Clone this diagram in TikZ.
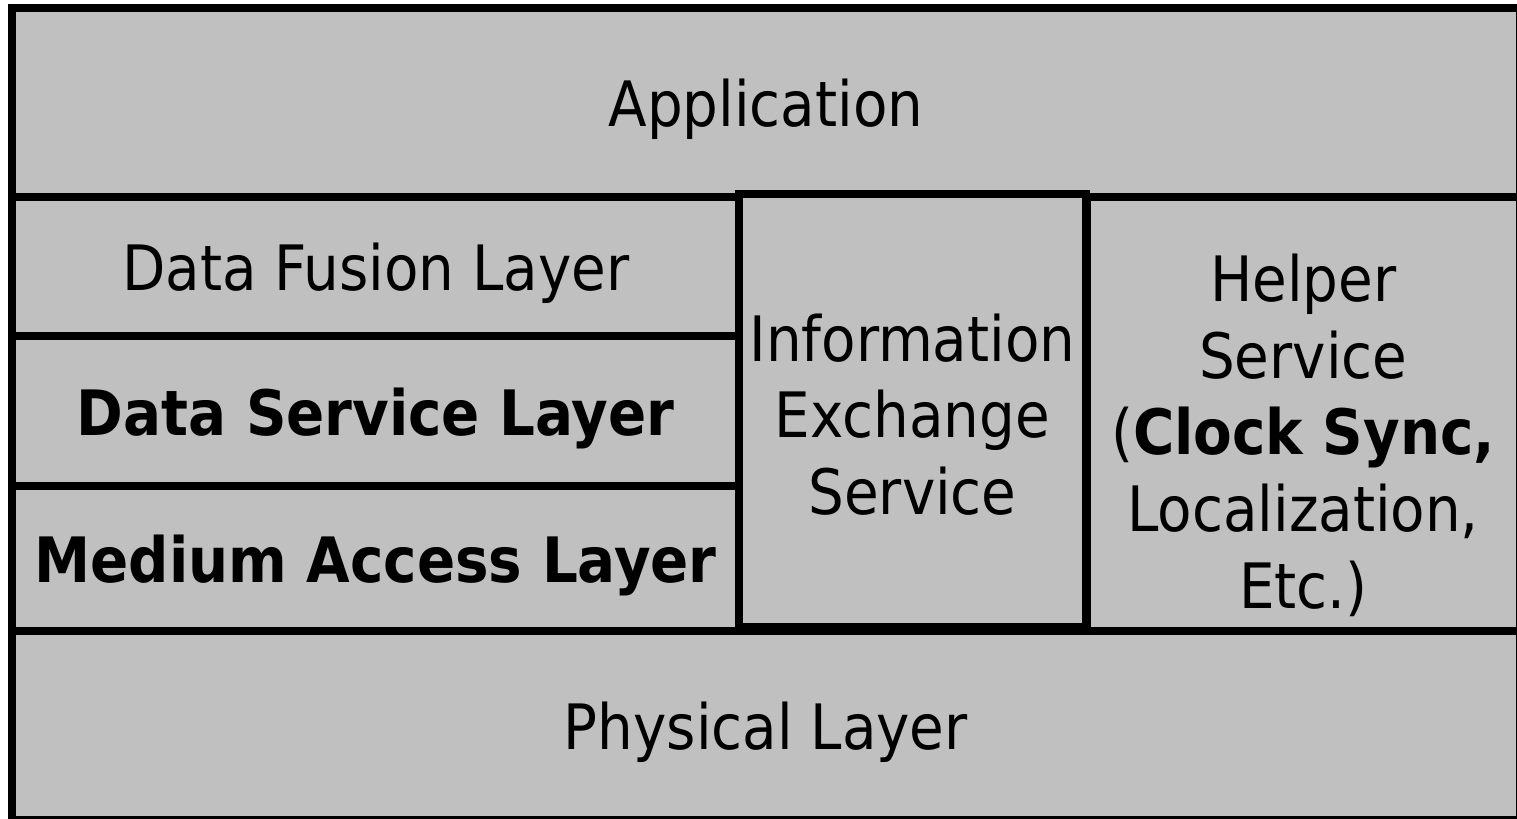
\documentclass[tikz,border=0pt]{standalone}
\usepackage{fontspec}
\setmainfont{DejaVu Sans Condensed}
\usepackage{tikz}
\usetikzlibrary{positioning}
\definecolor{layergray}{RGB}{192,192,192}

\begin{document}
\begin{tikzpicture}[x=0.01cm, y=-0.01cm, every node/.style={font=\fontsize{17.8}{21.8}\selectfont}, layer/.style={draw, line width=0.08cm, fill=layergray, inner sep=0pt, outer sep=0pt, align=center, text depth=0pt}]
\useasboundingbox (0,0) rectangle (1517,819);
\clip (0,0) rectangle (1517,819);
\fill[white] (0,0) rectangle (1517,819);
\node[layer, minimum width=15.07cm, minimum height=1.89cm, anchor=north west] (app) at (12,8) {Application};
\node[layer, minimum width=7.27cm, minimum height=1.39cm, below=0pt of app.south west, anchor=north west] (fusion) {Data Fusion Layer};
\node[layer, minimum width=7.27cm, minimum height=1.50cm, below=0pt of fusion.south west, anchor=north west] (dsl) {\textbf{Data Service Layer}};
\node[layer, minimum width=7.27cm, minimum height=1.45cm, below=0pt of dsl.south west, anchor=north west] (mac) {\textbf{Medium Access Layer}};
\node[layer, minimum width=15.07cm, minimum height=1.89cm, below=0pt of mac.south west, anchor=north west] (phy) {Physical Layer};
\node[layer, minimum width=4.33cm, minimum height=4.34cm, below=0pt of app.south east, anchor=north east] (helper) {};
\node[align=center] (helpertxt) at ([yshift=-0.21cm]helper.center) {Helper\\Service\\(\textbf{Clock Sync,}\\Localization,\\Etc.)};
\node[layer, minimum width=3.47cm, minimum height=4.33cm] (ies) at (912.5,410.5) {};
\node[align=center] (iestxt) at ([yshift=-0.04cm]ies.center) {Information\\Exchange\\Service};
\end{tikzpicture}
\end{document}
